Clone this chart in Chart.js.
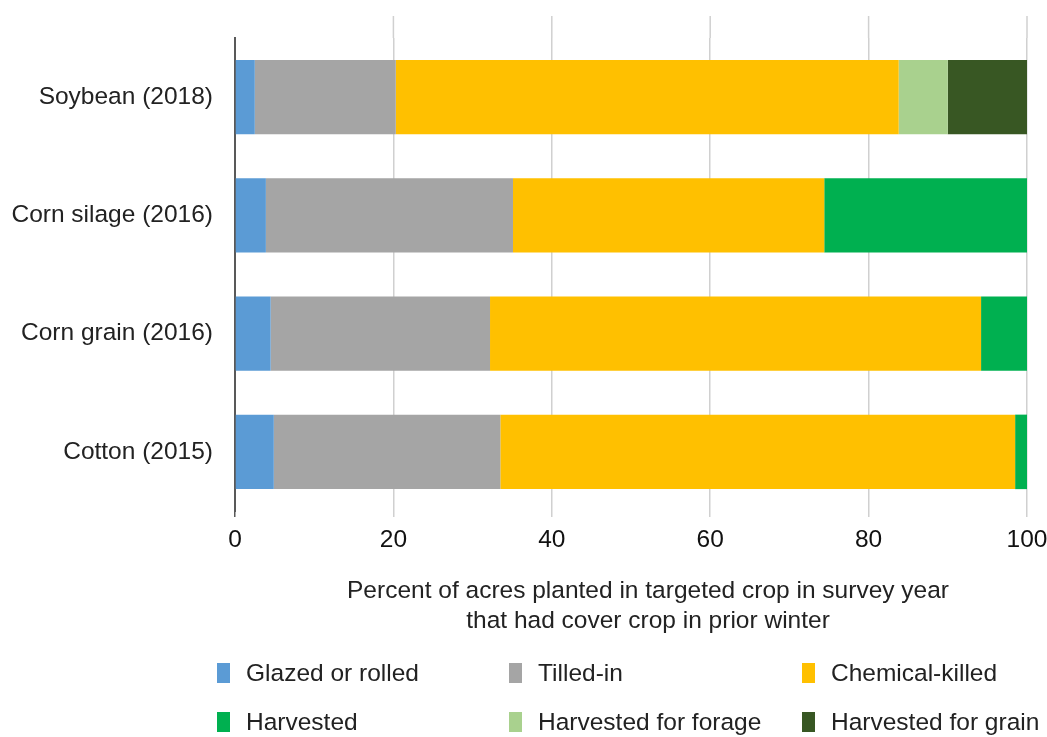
<!DOCTYPE html>
<html>
<head>
<meta charset="utf-8">
<script src="https://cdn.jsdelivr.net/npm/chart.js@4"></script>
<style>
  body { margin: 0; background: #fff; font-family: "Liberation Sans", Arial, sans-serif; color: #222; }
  #wrap { position: relative; width: 1047px; height: 737px; }
  #chart { position: absolute; left: 0; top: 0; }
  .title { position: absolute; left: 298px; width: 700px; top: 575px; text-align: center; font-size: 24.5px; line-height: 30px; }
  .legend-item { position: absolute; font-size: 24.5px; line-height: 26px; }
  .legend-item span.box { position: absolute; left: 0; top: 3px; width: 13px; height: 20px; }
  .legend-item span.txt { position: absolute; left: 29px; white-space: nowrap; }
</style>
</head>
<body>
<div id="wrap">
  <canvas id="chart" width="1047" height="737"></canvas>
  <div class="title">Percent of acres planted in targeted crop in survey year<br>that had cover crop in prior winter</div>
  <div id="legend"></div>
</div>
<script>
"use strict";

const crops = ["Soybean (2018)", "Corn silage (2016)", "Corn grain (2016)", "Cotton (2015)"];
const seriesNames = ["Glazed or rolled", "Tilled-in", "Chemical-killed", "Harvested", "Harvested for forage", "Harvested for grain"];
const glazed = [2.5, 3.9, 4.5, 4.9];
const tilled = [17.8, 31.2, 27.7, 28.6];
const chemical = [63.5, 39.3, 62.0, 65.0];
const harvested = [0, 25.6, 5.8, 1.5];
const forage = [6.2, 0, 0, 0];
const grain = [10.0, 0, 0, 0];
const xTicks = [0, 20, 40, 60, 80, 100];

const colors = ["#5B9BD5", "#A5A5A5", "#FFC000", "#00B050", "#A9D18E", "#385723"];
const values = [glazed, tilled, chemical, harvested, forage, grain];

const datasets = seriesNames.map((name, i) => ({
  label: name,
  data: values[i],
  backgroundColor: colors[i],
  borderWidth: 0,
  barPercentage: 0.63,
  categoryPercentage: 1,
}));

// excel draws the vertical gridlines a bit higher than the axis line
const tallGrid = {
  id: "tallGrid",
  beforeDatasetsDraw(chart) {
    const ctx = chart.ctx;
    const x = chart.scales.x;
    ctx.save();
    ctx.strokeStyle = "#D0D0D0";
    ctx.lineWidth = 1.5;
    xTicks.forEach((v) => {
      if (v === 0) return;
      const px = x.getPixelForValue(v);
      ctx.beginPath();
      ctx.moveTo(px, 16);
      ctx.lineTo(px, chart.chartArea.top);
      ctx.stroke();
    });
    ctx.restore();
  },
};

const ctx = document.getElementById("chart").getContext("2d");
new Chart(ctx, {
  type: "bar",
  data: { labels: crops, datasets: datasets },
  plugins: [tallGrid],
  options: {
    indexAxis: "y",
    responsive: false,
    animation: false,
    layout: { padding: { top: 38, right: 20, left: 0, bottom: 0 } },
    plugins: { legend: { display: false }, tooltip: { enabled: false } },
    scales: {
      x: {
        stacked: true,
        min: 0,
        max: 100,
        afterBuildTicks: (scale) => {
          scale.ticks = xTicks.map((v) => ({ value: v }));
        },
        afterFit: (scale) => {
          scale.height = 226;
          scale.paddingRight = 0;
          scale.paddingLeft = 0;
        },
        grid: {
          color: (c) => (c.tick && c.tick.value === 0 ? "#595959" : "#D0D0D0"),
          lineWidth: 1.5,
          tickLength: 6,
        },
        border: { display: false },
        ticks: {
          color: "#111",
          font: { family: "Liberation Sans", size: 24.5 },
          padding: 9,
          maxRotation: 0,
        },
      },
      y: {
        stacked: true,
        afterFit: (scale) => {
          scale.width = 235;
        },
        grid: { display: false, drawTicks: false },
        border: { display: true, color: "#595959", width: 2 },
        ticks: {
          color: "#222",
          font: { family: "Liberation Sans", size: 24.5 },
          padding: 22,
        },
      },
    },
  },
});

const legendPos = [
  [217, 660], [509, 660], [802, 660],
  [217, 709], [509, 709], [802, 709],
];
const legend = document.getElementById("legend");
seriesNames.forEach((name, i) => {
  const item = document.createElement("div");
  item.className = "legend-item";
  item.style.left = legendPos[i][0] + "px";
  item.style.top = legendPos[i][1] + "px";
  item.innerHTML = '<span class="box" style="background:' + colors[i] + '"></span><span class="txt">' + name + "</span>";
  legend.appendChild(item);
});
</script>
</body>
</html>
